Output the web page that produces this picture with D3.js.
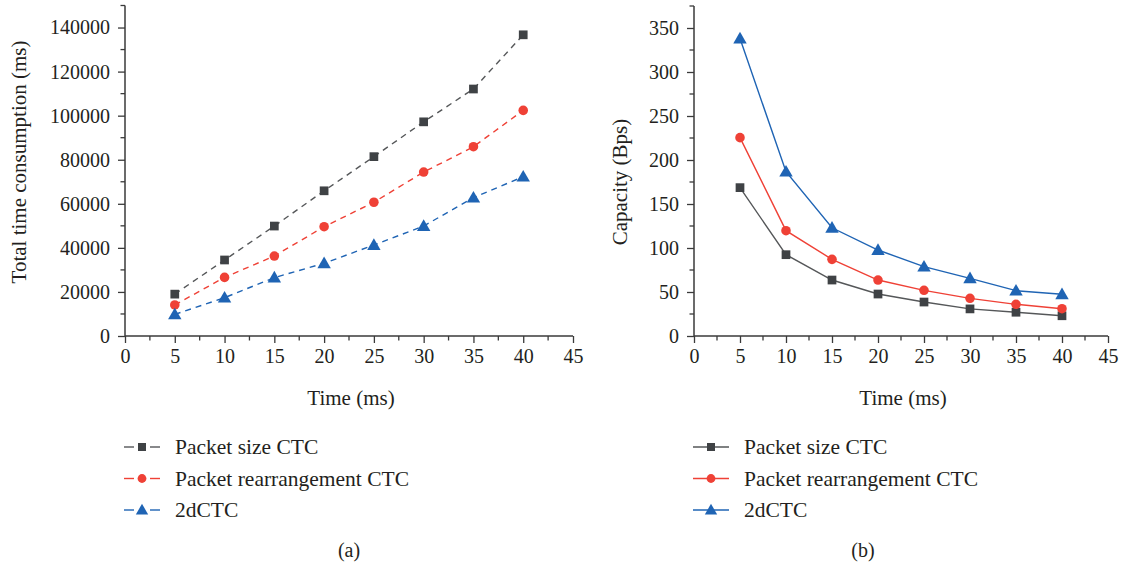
<!DOCTYPE html>
<html><head><meta charset="utf-8">
<script src="https://cdn.jsdelivr.net/npm/d3@7"></script>
<style>
html,body{margin:0;padding:0;background:#fff;}
svg text{font-family:"Liberation Serif","DejaVu Serif",serif;fill:#231f20;}
</style></head>
<body><svg id="c" width="1123" height="567"></svg>
<script>
const xValues = [5, 10, 15, 20, 25, 30, 35, 40];
const seriesNames = ["Packet size CTC", "Packet rearrangement CTC", "2dCTC"];
// (a) Total time consumption (ms)
const timeSize = [19000, 34500, 49900, 65900, 81400, 97200, 112100, 136700];
const timeRearr = [14100, 26600, 36300, 49600, 60700, 74400, 85900, 102400];
const time2d = [9800, 17400, 26500, 33000, 41300, 49900, 62800, 72300];
// (b) Capacity (Bps)
const capSize = [168.6, 92.4, 63.6, 47.7, 38.6, 30.8, 27, 23];
const capRearr = [225.4, 119.7, 87.1, 63.6, 51.9, 42.8, 36, 31];
const cap2d = [338, 186.7, 123, 97.7, 78.8, 65.5, 51.5, 47.4];
const xTicks = [0, 5, 10, 15, 20, 25, 30, 35, 40, 45];
const yTicksA = [0, 20000, 40000, 60000, 80000, 100000, 120000, 140000];
const yTicksB = [0, 50, 100, 150, 200, 250, 300, 350];

const colors = ["#3f4245", "#ef4136", "#1f64b4"];
const lineColors = ["#555759", "#ef4136", "#1f64b4"];
const shapes = [d3.symbolSquare, d3.symbolCircle, d3.symbolTriangle];
const sizes = [76, 72, 78];

const svg = d3.select("#c");
const axisColor = "#3a3a3a";
const FS = 20, TFS = 21;

function panel(opt) {
  const g = svg.append("g");
  const x = d3.scaleLinear().domain([0, 45]).range([opt.x0, opt.x1]);
  const y = d3.scaleLinear().domain([0, opt.ymax]).range([opt.y0, opt.y1]);
  const xMinor = d3.range(2.5, 45, 5);
  const gx = g.append("g").attr("transform", `translate(0,${opt.y0})`)
    .call(d3.axisBottom(x).tickValues(xTicks).tickSize(7).tickPadding(6).tickFormat(d3.format("d")));
  gx.append("g").selectAll("line").data(xMinor).join("line")
    .attr("x1", d => x(d)).attr("x2", d => x(d)).attr("y1", 0).attr("y2", 4.5);
  const gy = g.append("g").attr("transform", `translate(${opt.x0},0)`)
    .call(d3.axisLeft(y).tickValues(opt.yTicks).tickSize(7).tickPadding(8).tickFormat(d3.format("d")));
  gy.append("g").selectAll("line").data(opt.yMinor).join("line")
    .attr("x1", 0).attr("x2", -4.5).attr("y1", d => y(d)).attr("y2", d => y(d));
  [gx, gy].forEach(a => {
    a.select(".domain").attr("stroke", axisColor).attr("stroke-width", 1.5);
    a.selectAll("line").attr("stroke", axisColor).attr("stroke-width", 1.3);
    a.selectAll("text").attr("font-size", FS).attr("fill", "#231f20")
      .style("font-family", '"Liberation Serif","DejaVu Serif",serif');
  });
  gx.select(".domain").attr("d", `M${opt.x0},0H${opt.x1}`);
  gy.select(".domain").attr("d", `M0,${opt.y0}V${opt.y1}`);

  const line = d3.line().x((d, i) => x(xValues[i])).y(d => y(d));
  opt.series.forEach((s, k) => {
    g.append("path").attr("d", line(s)).attr("fill", "none")
      .attr("stroke", lineColors[k]).attr("stroke-width", 1.4)
      .attr("stroke-dasharray", opt.dashed ? "6,5" : null);
  });
  opt.series.forEach((s, k) => {
    g.append("g").selectAll("path").data(s).join("path")
      .attr("transform", (d, i) => `translate(${x(xValues[i])},${y(d) + (k === 2 ? 1 : 0)})`)
      .attr("d", d3.symbol().type(shapes[k]).size(sizes[k]))
      .attr("fill", colors[k]);
  });
  g.append("text").attr("x", (opt.x0 + opt.x1) / 2 + 2).attr("y", 405)
    .attr("text-anchor", "middle").attr("font-size", TFS).text("Time (ms)");
  g.append("text").attr("transform", `translate(${opt.ytx},${opt.yty}) rotate(-90)`)
    .attr("text-anchor", "middle").attr("font-size", TFS).text(opt.ytitle);
  const lg = g.append("g");
  seriesNames.forEach((n, k) => {
    const yy = 447 + k * 31.5;
    if (opt.dashed) {
      lg.append("line").attr("x1", opt.lx).attr("x2", opt.lx + 10).attr("y1", yy).attr("y2", yy)
        .attr("stroke", lineColors[k]).attr("stroke-width", 1.4);
      lg.append("line").attr("x1", opt.lx + 26).attr("x2", opt.lx + 36).attr("y1", yy).attr("y2", yy)
        .attr("stroke", lineColors[k]).attr("stroke-width", 1.4);
    } else {
      lg.append("line").attr("x1", opt.lx).attr("x2", opt.lx + 36).attr("y1", yy).attr("y2", yy)
        .attr("stroke", lineColors[k]).attr("stroke-width", 1.4);
    }
    lg.append("path").attr("transform", `translate(${opt.lx + 18},${yy + (k === 2 ? 1 : 0)})`)
      .attr("d", d3.symbol().type(shapes[k]).size(sizes[k] * 0.85)).attr("fill", colors[k]);
    lg.append("text").attr("x", opt.lx + 51).attr("y", yy + 7).attr("font-size", 21.5).text(n);
  });
  g.append("text").attr("x", opt.capx).attr("y", 557).attr("text-anchor", "middle")
    .attr("font-size", 20).text(opt.caption);
}

panel({x0: 125, x1: 573, y0: 336, y1: 5.5, ymax: 150000, yTicks: yTicksA,
  yMinor: d3.range(10000, 150001, 20000), series: [timeSize, timeRearr, time2d], dashed: true,
  ytitle: "Total time consumption (ms)", ytx: 26, yty: 162, lx: 124, capx: 349, caption: "(a)"});
panel({x0: 694, x1: 1108, y0: 336, y1: 6, ymax: 375, yTicks: yTicksB,
  yMinor: d3.range(25, 376, 50), series: [capSize, capRearr, cap2d], dashed: false,
  ytitle: "Capacity (Bps)", ytx: 627, yty: 182, lx: 693, capx: 863, caption: "(b)"});
</script></body></html>
